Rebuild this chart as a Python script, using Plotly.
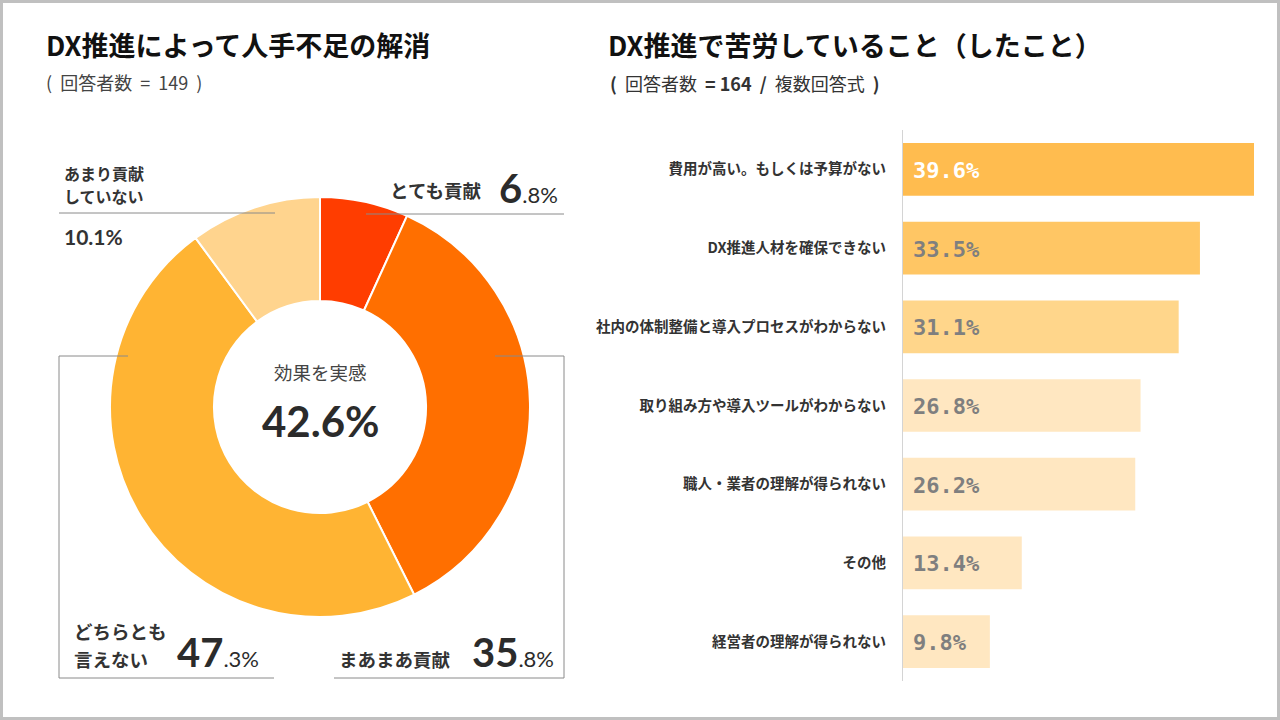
import plotly.graph_objects as go

# donut: effect on labour shortage
pie_labels = ["とても貢献", "まあまあ貢献", "どちらとも言えない", "あまり貢献していない"]
pie_values = [6.8, 35.8, 47.3, 10.1]
pie_colors = ["#FF3D00", "#FF6F00", "#FFB433", "#FFD48E"]
effect_total = 42.6

# bars: difficulties
bar_labels = [
    "費用が高い。もしくは予算がない",
    "DX推進人材を確保できない",
    "社内の体制整備と導入プロセスがわからない",
    "取り組み方や導入ツールがわからない",
    "職人・業者の理解が得られない",
    "その他",
    "経営者の理解が得られない",
]
bar_values = [39.6, 33.5, 31.1, 26.8, 26.2, 13.4, 9.8]
bar_colors = ["#FFBC4F", "#FFC664", "#FFD68B", "#FFE7C1", "#FFE7C1", "#FFE7C1", "#FFE7C1"]
bar_text_colors = ["#FFFFFF", "#7F7F7F", "#7F7F7F", "#7F7F7F", "#7F7F7F", "#7F7F7F", "#7F7F7F"]

W, H = 1280, 720
JP = "Noto Sans CJK JP"
NUM = "Lato"


def px(x):
    return x / W


def py(y):
    return 1 - y / H


fig = go.Figure()

fig.add_trace(go.Pie(
    labels=pie_labels, values=pie_values,
    marker=dict(colors=pie_colors, line=dict(color="white", width=2)),
    hole=0.505, sort=False, direction="clockwise", rotation=0,
    textinfo="none", hoverinfo="label+percent", showlegend=False,
    domain=dict(x=[px(110), px(530)], y=[py(617), py(197)]),
))

fig.add_trace(go.Bar(
    x=bar_values, y=bar_labels, orientation="h",
    marker=dict(color=bar_colors, line=dict(width=0)),
    width=0.67, xaxis="x", yaxis="y", showlegend=False,
    hovertemplate="%{y}: %{x}%<extra></extra>",
))

fig.update_layout(
    width=W, height=H,
    margin=dict(l=0, r=0, t=0, b=0),
    paper_bgcolor="white", plot_bgcolor="white",
    font=dict(family=JP, color="#333333"),
    xaxis=dict(domain=[px(903), px(903 + 42 * 8.864)], range=[0, 42],
               showgrid=False, zeroline=False, showticklabels=False, fixedrange=True),
    yaxis=dict(domain=[py(681), py(130)], autorange="reversed",
               showgrid=False, zeroline=False, showline=True, linecolor="#D4D4D4", linewidth=1,
               ticks="", ticklabelstandoff=13,
               tickfont=dict(family=JP, size=14.5, color="#333333", weight="bold")),
)

# bar value labels
for lab, val, col in zip(bar_labels, bar_values, bar_text_colors):
    fig.add_annotation(x=0, y=lab, xref="x", yref="y", xanchor="left", yanchor="middle",
                       xshift=8, yshift=-1, text=f"{val}%", showarrow=False,
                       font=dict(family="DejaVu Sans Mono", size=22, color=col, weight="bold"))

# outer frame
fig.add_shape(type="rect", xref="paper", yref="paper", x0=0, x1=1, y0=0, y1=1,
              line=dict(color="#C0C0C0", width=6), layer="above")

line_style = dict(color="#8A8A8A", width=1)
fig.add_shape(type="line", xref="paper", yref="paper", x0=px(59), x1=px(275), y0=py(213), y1=py(213), line=line_style)
fig.add_shape(type="line", xref="paper", yref="paper", x0=px(366), x1=px(564), y0=py(214), y1=py(214), line=line_style)
fig.add_shape(type="path", xref="paper", yref="paper", line=line_style,
              path=f"M {px(128)},{py(356)} L {px(59)},{py(356)} L {px(59)},{py(678)} L {px(274)},{py(678)}")
fig.add_shape(type="path", xref="paper", yref="paper", line=line_style,
              path=f"M {px(495)},{py(356)} L {px(564)},{py(356)} L {px(564)},{py(678)} L {px(334)},{py(678)}")


def note(x, y, text, size, anchor="left", color="#333333", family=JP, weight="normal", yanchor="middle"):
    fig.add_annotation(x=px(x), y=py(y), xref="paper", yref="paper", xanchor=anchor, yanchor=yanchor,
                       text=text, showarrow=False,
                       font=dict(family=family, size=size, color=color, weight=weight))


# titles
note(44, 44, "DX推進によって人手不足の解消", 27, color="#111111", weight="bold")
note(44, 82, "(  回答者数  =  149  )", 18, color="#444444")
note(606, 44, "DX推進で苦労していること（したこと）", 27, color="#111111", weight="bold")
note(608, 83, "<b>(</b>  回答者数  <b>= 164  /</b>  複数回答式  <b>)</b>", 18, color="#333333")

# donut center
note(320, 372, "効果を実感", 18.5, anchor="center", color="#444444")
note(320, 421, f"{effect_total}%", 42, anchor="center", color="#2B2B2B", family=NUM, weight="bold")


def big_pct(v, big, small):
    whole, frac = f"{v}".split(".")
    return (f"<span style='font-size:{big}px'><b>{whole}</b></span>"
            f"<span style='font-size:{small}px'>.{frac}%</span>")


# slice labels
note(62, 173, "あまり貢献", 16, weight="bold")
note(62, 196, "していない", 16, weight="bold")
note(62, 237, f"{pie_values[3]}%", 21, family=NUM, weight="bold")

note(484, 190, "とても貢献", 18.5, anchor="right", weight="bold")
fig.add_annotation(x=px(560), y=py(188), xref="paper", yref="paper", xanchor="right", yanchor="middle",
                   text=big_pct(pie_values[0], 40, 22), showarrow=False,
                   font=dict(family=NUM, color="#2B2B2B"))

note(72, 631, "どちらとも", 18.5, weight="bold")
note(72, 659, "言えない", 18.5, weight="bold")
fig.add_annotation(x=px(175), y=py(652), xref="paper", yref="paper", xanchor="left", yanchor="middle",
                   text=big_pct(pie_values[2], 40, 22), showarrow=False,
                   font=dict(family=NUM, color="#2B2B2B"))

note(453, 659, "まあまあ貢献", 18.5, anchor="right", weight="bold")
fig.add_annotation(x=px(556), y=py(652), xref="paper", yref="paper", xanchor="right", yanchor="middle",
                   text=big_pct(pie_values[1], 40, 22), showarrow=False,
                   font=dict(family=NUM, color="#2B2B2B"))

fig.write_html("out.html", config={"displayModeBar": False},
               post_script="document.body.style.margin='0';")
